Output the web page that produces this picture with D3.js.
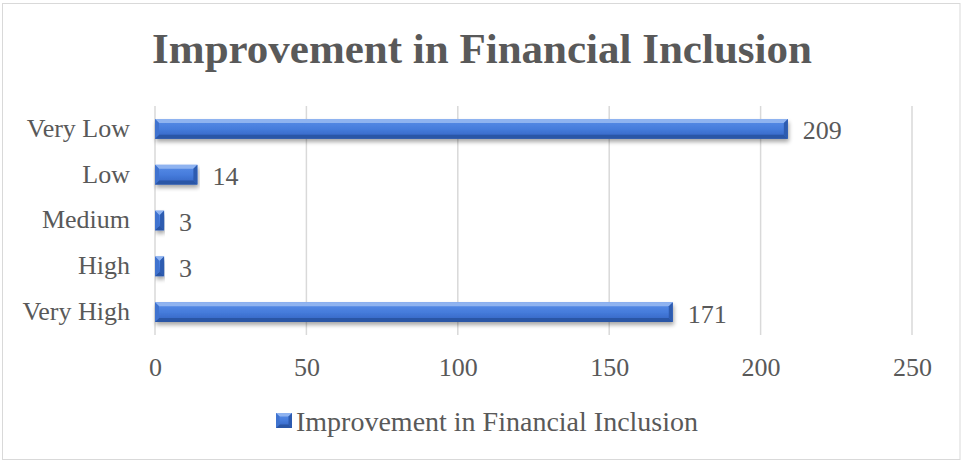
<!DOCTYPE html>
<html>
<head>
<meta charset="utf-8">
<script src="https://cdn.jsdelivr.net/npm/d3@7"></script>
<style>
  html, body { margin: 0; padding: 0; background: #fff; }
  svg { display: block; }
  text { font-family: "Liberation Serif", "Times New Roman", serif; fill: #595959; }
</style>
</head>
<body>
<script>
// Chart data
const categories = ["Very Low", "Low", "Medium", "High", "Very High"];
const values = [209, 14, 3, 3, 171];
const tickValues = [0, 50, 100, 150, 200, 250];
const seriesName = "Improvement in Financial Inclusion";
const chartTitle = "Improvement in Financial Inclusion";

const W = 964, H = 461;
const svg = d3.select("body").append("svg").attr("width", W).attr("height", H);

// Outer chart border
svg.append("rect")
  .attr("x", 2.5).attr("y", 3.5).attr("width", 957.5).attr("height", 456)
  .attr("fill", "#fff").attr("stroke", "#d9d9d9").attr("stroke-width", 1);

const defs = svg.append("defs");
const grad = defs.append("linearGradient").attr("id", "barFace")
  .attr("x1", 0).attr("y1", 0).attr("x2", 0).attr("y2", 1);
grad.append("stop").attr("offset", "0%").attr("stop-color", "#5a8ee8");
grad.append("stop").attr("offset", "50%").attr("stop-color", "#467cdc");
grad.append("stop").attr("offset", "100%").attr("stop-color", "#3262c0");

const shadow = defs.append("filter").attr("id", "barShadow")
  .attr("x", "-5%").attr("y", "-30%").attr("width", "110%").attr("height", "190%");
shadow.append("feGaussianBlur").attr("in", "SourceAlpha").attr("stdDeviation", 2).attr("result", "blur");
shadow.append("feOffset").attr("in", "blur").attr("dx", 1).attr("dy", 3).attr("result", "off");
shadow.append("feComponentTransfer").attr("in", "off").attr("result", "soft")
  .append("feFuncA").attr("type", "linear").attr("slope", 0.35);
const merge = shadow.append("feMerge");
merge.append("feMergeNode").attr("in", "soft");
merge.append("feMergeNode").attr("in", "SourceGraphic");

// Scales
const x = d3.scaleLinear().domain([0, 250]).range([155, 912]);
const y = d3.scaleBand().domain(categories).range([106, 335])
  .paddingInner(0.57).paddingOuter(0.285);

// Vertical gridlines
svg.append("g").selectAll("line").data(tickValues).join("line")
  .attr("x1", d => x(d)).attr("x2", d => x(d))
  .attr("y1", 106).attr("y2", 335)
  .attr("stroke", "#d9d9d9").attr("stroke-width", 1.5);

// Bevelled bar drawing
function bevelBar(g, x0, x1, y0, h, b) {
  b = Math.min(b, (x1 - x0) / 2, h / 2);
  const yb = y0 + h;
  g.append("rect").attr("x", x0).attr("y", y0).attr("width", x1 - x0).attr("height", h)
    .attr("fill", "url(#barFace)");
  const poly = (pts, fill) => g.append("polygon")
    .attr("points", pts.map(p => p.join(",")).join(" ")).attr("fill", fill);
  poly([[x0, y0], [x1, y0], [x1 - b, y0 + b], [x0 + b, y0 + b]], "#8fb3f0");
  poly([[x0, yb], [x1, yb], [x1 - b, yb - b], [x0 + b, yb - b]], "#2a56a6");
  poly([[x0, y0], [x0 + b, y0 + b], [x0 + b, yb - b], [x0, yb]], "#3f73cf");
  poly([[x1, y0], [x1 - b, y0 + b], [x1 - b, yb - b], [x1, yb]], "#2d5bb0");
}

const bars = svg.append("g").selectAll("g").data(categories).join("g")
  .attr("filter", "url(#barShadow)");
bars.each(function (c, i) {
  bevelBar(d3.select(this), x(0), x(values[i]), y(c), y.bandwidth(), 4);
});

// Value labels
svg.append("g").selectAll("text").data(categories).join("text")
  .attr("x", (c, i) => x(values[i]) + 15)
  .attr("y", c => y(c) + y.bandwidth() / 2)
  .attr("dy", "0.4em")
  .attr("font-size", 26)
  .text((c, i) => values[i]);

// Category axis labels
const yAxis = d3.axisLeft(y).tickSize(0).tickPadding(0);
const yg = svg.append("g").attr("transform", "translate(130,0)").call(yAxis);
yg.select(".domain").remove();
yg.selectAll("text").attr("font-size", 26).attr("fill", "#595959")
  .style("font-family", "'Liberation Serif', 'Times New Roman', serif")
  .attr("dy", "0.3em");

// Value axis labels
const xAxis = d3.axisBottom(x).tickValues(tickValues).tickSize(0).tickPadding(0);
const xg = svg.append("g").attr("transform", "translate(0,376)").call(xAxis);
xg.select(".domain").remove();
xg.selectAll("text").attr("font-size", 26).attr("fill", "#595959")
  .style("font-family", "'Liberation Serif', 'Times New Roman', serif")
  .attr("y", 0).attr("dy", 0);

// Title
svg.append("text")
  .attr("x", 482).attr("y", 63)
  .attr("text-anchor", "middle")
  .attr("font-size", 43).attr("font-weight", "bold")
  .text(chartTitle);

// Legend
const lg = svg.append("g");
bevelBar(lg, 276, 292, 413, 15, 3.5);
lg.append("text").attr("x", 296).attr("y", 431)
  .attr("font-size", 28)
  .text(seriesName);
</script>
</body>
</html>
